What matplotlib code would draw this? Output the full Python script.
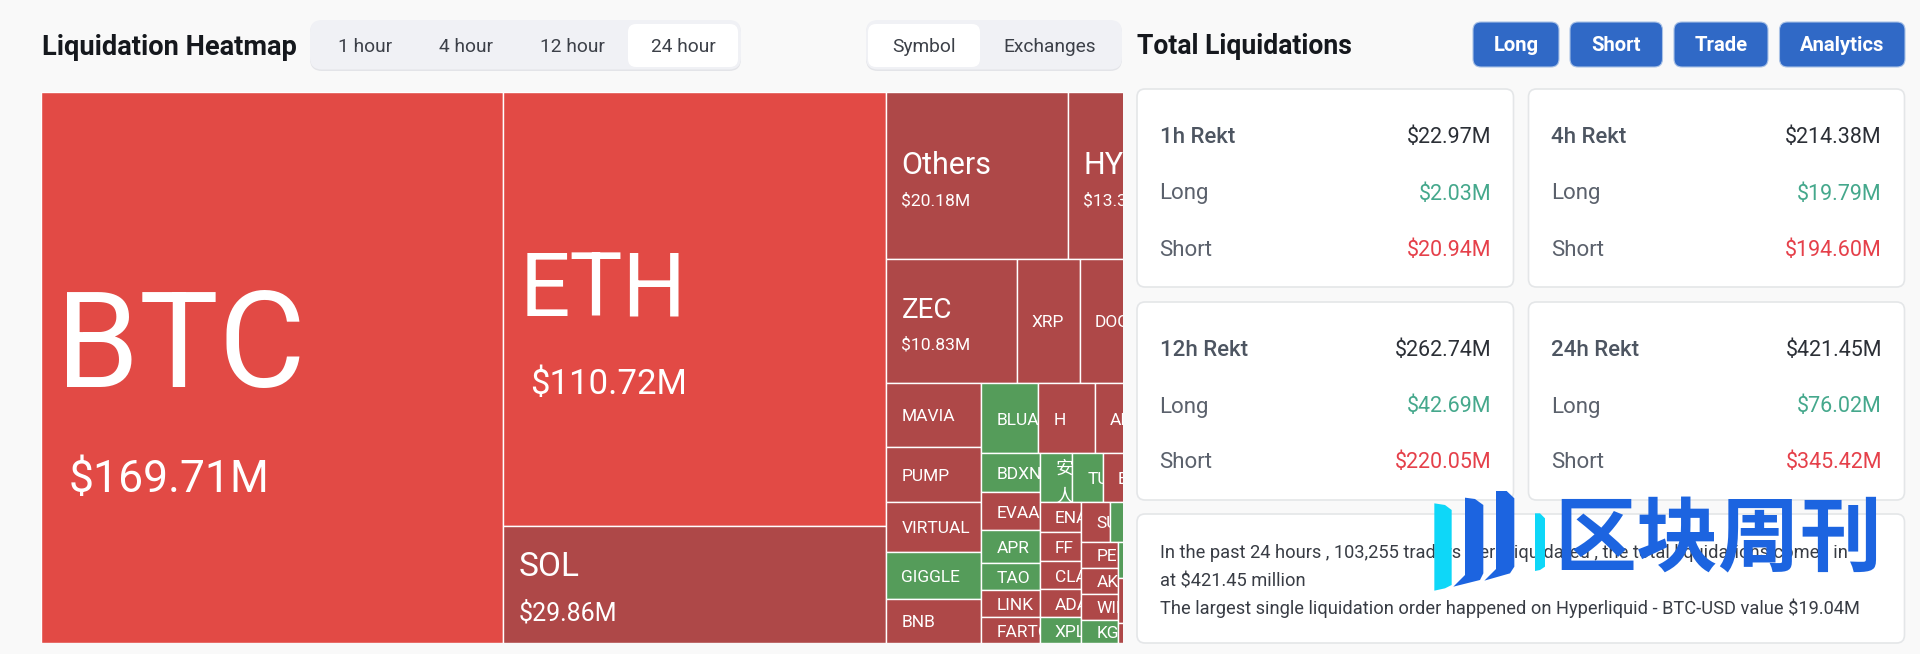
import matplotlib
matplotlib.use("Agg")
import matplotlib.pyplot as plt
from matplotlib.patches import Rectangle, FancyBboxPatch, Polygon
from matplotlib.transforms import Bbox, TransformedBbox

# ---------- data ----------
tree_names = ["BTC", "ETH", "SOL", "Others", "HY", "ZEC", "XRP", "DOGE",
              "MAVIA", "PUMP", "VIRTUAL", "GIGGLE", "BNB",
              "BLUAI", "H", "AIA",
              "BDXN", "EVAA", "APR", "TAO", "LINK", "FARTCOIN",
              "安\n人", "TURBO", "ETC",
              "ENA", "FF", "CLANKER", "ADA", "XPL",
              "SUI", "",
              "PEPE", "AKT", "WIF", "KGEN",
              "", "", ""]
tree_values = [169.71, 110.72, 29.86, 20.18, 13.35, 10.83, 5.25, 9.02,
               4.01, 3.50, 3.15, 3.00, 2.80,
               2.66, 2.62, 4.37,
               1.49, 1.50, 1.26, 1.07, 1.04, 1.00,
               1.05, 0.97, 2.75,
               0.855, 0.80, 0.785, 0.77, 0.72,
               0.76, 2.10,
               0.63, 0.645, 0.62, 0.565,
               1.71, 2.10, 0.95]
tree_tone = ["hot", "hot", "short", "short", "short", "short", "short", "short",
             "short", "short", "short", "long", "short",
             "long", "short", "short",
             "long", "short", "long", "long", "short", "short",
             "long", "long", "short",
             "short", "short", "short", "short", "long",
             "short", "long",
             "short", "short", "short", "long",
             "long", "short", "short"]
shown_values = {"BTC": "$169.71M", "ETH": "$110.72M", "SOL": "$29.86M",
                "Others": "$20.18M", "HY": "$13.35M", "ZEC": "$10.83M"}

# slice-and-dice nesting of the cells (indices into the lists above)
tree_layout = ("h", [0,
    ("v", [1, 2]),
    ("v", [("h", [3, 4]),
           ("h", [5, 6, 7]),
           ("h", [("v", [8, 9, 10, 11, 12]),
                  ("v", [("h", [13, 14, 15]),
                         ("h", [("v", [16, 17, 18, 19, 20, 21]),
                                ("v", [("h", [22, 23, 24]),
                                       ("h", [("v", [25, 26, 27, 28, 29]),
                                              ("v", [("h", [30, 31]),
                                                     ("h", [("v", [32, 33, 34, 35]),
                                                            ("v", [36, 37, 38])])])])])])])])])])

tab_labels = ["1 hour", "4 hour", "12 hour", "24 hour"]
view_labels = ["Symbol", "Exchanges"]
button_labels = ["Long", "Short", "Trade", "Analytics"]
card_titles = ["1h Rekt", "4h Rekt", "12h Rekt", "24h Rekt"]
card_total = ["$22.97M", "$214.38M", "$262.74M", "$421.45M"]
card_long = ["$2.03M", "$19.79M", "$42.69M", "$76.02M"]
card_short = ["$20.94M", "$194.60M", "$220.05M", "$345.42M"]
summary_lines = ["In the past 24 hours , 103,255 traders were liquidated , the total liquidations comes in",
                 "at $421.45 million",
                 "The largest single liquidation order happened on Hyperliquid - BTC-USD value $19.04M"]

# ---------- styles ----------
BG = "#f9f9f9"
TONE = {"hot": "#e24a45", "short": "#ae4848", "long": "#559c5a"}
UI = ["Roboto", "Noto Sans CJK SC"]
# name: size, pad, dy, value size, value pad, value dy  (pt, px, px, pt, px, px)
LABEL = {"BTC": (96, 15, -17, 32, 27, 113), "ETH": (64, 16, -17, 25, 27, 76),
         "SOL": (24, 15, -17, 18, 15, 29), "Others": (22, 15, -10, 12.6, 15, 25),
         "HY": (22, 15, -10, 12.6, 15, 25), "ZEC": (20, 15, -10, 12.6, 15, 24),
         "安\n人": (13, 16, 5, 0, 0, 0)}

fig = plt.figure(figsize=(19.2, 6.54), dpi=100, facecolor=BG)
ax = fig.add_axes([0, 0, 1, 1])
ax.set_xlim(0, 1920)
ax.set_ylim(654, 0)
ax.axis("off")


def round_box(x0, y0, x1, y1, face, edge="none", r=8, lw=0, z=1):
    ax.add_patch(FancyBboxPatch((x0, y0), x1 - x0, y1 - y0,
                                boxstyle=f"round,pad=0,rounding_size={r}",
                                fc=face, ec=edge, lw=lw, zorder=z))


def pill(x0, x1):
    round_box(x0, 21, x1, 71, "#e3e4e8", r=12, z=0.9)
    round_box(x0, 20, x1, 69.5, "#f0f1f5", r=12)


# ---------- header left ----------
ax.text(41.5, 47.5, "Liquidation Heatmap", fontsize=19.6, fontweight="bold", family=UI,
        color="#15181d", va="center", ha="left")
pill(310, 741)
round_box(628, 24, 738, 67, "white", r=8, z=2)
for label, xc in zip(tab_labels, [365, 466, 572, 683.5]):
    ax.text(xc, 47.5, label, fontsize=13.8, family=UI, color="#3c4048", ha="center", va="center", zorder=3)
pill(866, 1122)
round_box(868, 24, 980, 67, "white", r=8, z=2)
for label, xc in zip(view_labels, [924, 1050]):
    ax.text(xc, 47.5, label, fontsize=13.8, family=UI, color="#3c4048", ha="center", va="center", zorder=3)

# ---------- header right ----------
ax.text(1137, 46.5, "Total Liquidations", fontsize=19.1, fontweight="bold", family=UI,
        color="#15181d", va="center", ha="left")
for label, (x0, x1) in zip(button_labels, [(1473, 1559), (1570, 1662.5), (1674, 1768), (1779.5, 1905)]):
    round_box(x0, 22, x1, 67, "#3069c6", edge="#a9c2e6", r=8, lw=0.8)
    ax.text((x0 + x1) / 2, 45.5, label, fontsize=14.6, fontweight="bold", family=UI,
            color="white", ha="center", va="center", zorder=3)

# ---------- cards ----------
card_boxes = [(1137, 89, 1513.5, 287), (1528.5, 89, 1904.5, 287),
              (1137, 302, 1513.5, 500), (1528.5, 302, 1904.5, 500)]
for i, (x0, y0, x1, y1) in enumerate(card_boxes):
    round_box(x0, y0, x1, y1, "white", edge="#e4e6e8", r=8, lw=1.2)
    xl, xr = x0 + 22.5, x1 - 22.5
    rows = [(y0 + 48.5, card_titles[i], "#4d5561", card_total[i], "#2b2f36", "medium"),
            (y0 + 105, "Long", "#5b616c", card_long[i], "#45a88c", "normal"),
            (y0 + 161, "Short", "#5b616c", card_short[i], "#e5404a", "normal")]
    for y, left, lc, right, rc, w in rows:
        ax.text(xl, y, left, fontsize=16, family=UI, color=lc, fontweight=w, ha="left", va="center", zorder=3)
        ax.text(xr, y, right, fontsize=15.5, family=UI, color=rc, ha="right", va="center", zorder=3)

round_box(1137, 514, 1904.5, 643, "white", edge="#e4e6e8", r=8, lw=1.2)
for line, y in zip(summary_lines, [552.5, 581, 608.5]):
    ax.text(1160, y, line, fontsize=13.15, family=UI, color="#383c44", ha="left", va="center", zorder=3)

# ---------- treemap ----------
tx = fig.add_axes([41.3 / 1920, 1 - 643 / 654, (1123 - 41.3) / 1920, 551 / 654], zorder=2)
tx.set_xlim(0, 1081.7 / 1147)
tx.set_ylim(1, 0)
tx.axis("off")


def total(node):
    return tree_values[node] if isinstance(node, int) else sum(total(c) for c in node[1])


def layout(node, x0, y0, x1, y1, out):
    if isinstance(node, int):
        out[node] = (x0, y0, x1, y1)
        return
    direction, kids = node
    s = total(node)
    pos = x0 if direction == "h" else y0
    for kid in kids:
        frac = total(kid) / s
        if direction == "h":
            nxt = pos + (x1 - x0) * frac
            layout(kid, pos, y0, nxt, y1, out)
        else:
            nxt = pos + (y1 - y0) * frac
            layout(kid, x0, pos, x1, nxt, out)
        pos = nxt


cells = {}
layout(tree_layout, 0, 0, 1, 1, cells)
xmax = tx.get_xlim()[1]
for i, name in enumerate(tree_names):
    x0, y0, x1, y1 = cells[i]
    tx.add_patch(Rectangle((x0, y0), x1 - x0, y1 - y0, fc=TONE[tree_tone[i]], ec="white", lw=1.0))
    if not name:
        continue
    size, pad, dy, vsize, vpad, vdy = LABEL.get(name, (12.5, 15, 2, 0, 0, 0))
    yc = (y0 + y1) / 2
    clip = TransformedBbox(Bbox([[x0, y0], [min(x1, xmax), y1]]), tx.transData)
    t = tx.annotate(name, xy=(x0, yc), xytext=(pad * 0.72, -dy * 0.72), textcoords="offset points",
                    fontsize=size, color="white", family=UI, ha="left", va="center",
                    linespacing=1.75, annotation_clip=False)
    t.set_clip_box(clip)
    t.set_clip_on(True)
    if name in shown_values:
        v = tx.annotate(shown_values[name], xy=(x0, yc), xytext=(vpad * 0.72, -vdy * 0.72),
                        textcoords="offset points", fontsize=vsize, color="white", family=UI,
                        fontweight="normal", ha="left", va="center", annotation_clip=False)
        v.set_clip_box(clip)
        v.set_clip_on(True)

# ---------- watermark ----------
wm = fig.add_axes([0, 0, 1, 1], zorder=5)
wm.set_xlim(0, 1920)
wm.set_ylim(654, 0)
wm.axis("off")


def logo(points, color):
    pts = [(1425 + px / 3, 495 + py / 3) for px, py in points]
    wm.add_patch(Polygon(pts, closed=True, fc=color, ec="none"))


logo([(28, 25), (60, 30), (80, 45), (80, 270), (60, 280), (28, 287)], "#0ed7f8")
logo([(120, 8), (150, 12), (175, 30), (175, 235), (165, 255), (85, 275), (120, 240)], "#1c64e0")
logo([(213, -12), (245, -12), (268, 10), (268, 215), (255, 235), (178, 257), (213, 222)], "#1c64e0")
logo([(330, 55), (345, 55), (360, 70), (360, 215), (345, 225), (330, 228)], "#0ed7f8")
wm.text(1718, 541, "区块周刊", fontsize=59, fontweight="bold", family=["Noto Sans CJK SC"],
        color="#1c64e0", ha="center", va="center")

fig.savefig("out.png", dpi=100, facecolor=BG)
